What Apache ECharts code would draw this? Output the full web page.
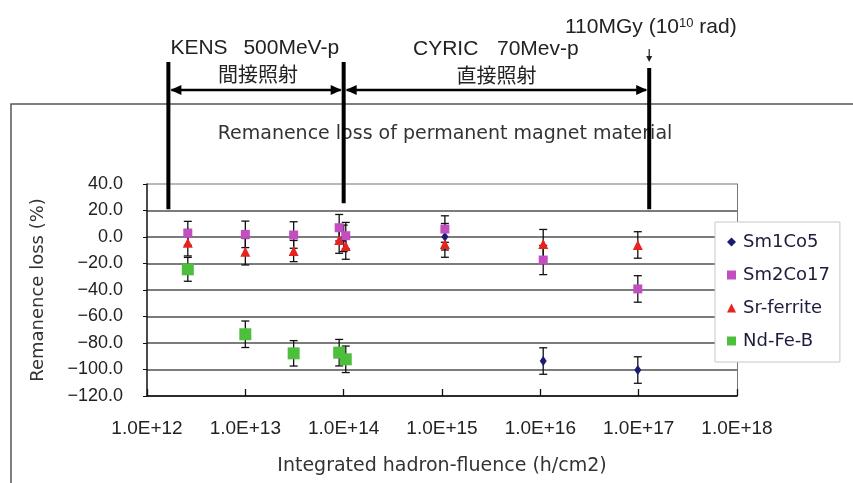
<!DOCTYPE html>
<html><head><meta charset="utf-8">
<script src="https://cdn.jsdelivr.net/npm/echarts@6/dist/echarts.min.js"></script>
<style>html,body{margin:0;padding:0;background:#fff}#c{width:853px;height:483px}</style>
</head><body><div id="c"></div>
<script>
// ---- data ----
const seriesNames = ['Sm1Co5', 'Sm2Co17', 'Sr-ferrite', 'Nd-Fe-B'];
// [fluence (h/cm2), remanence loss (%), error (%)]
const sm1co5 = [[1.0e14, -1, 10], [1.07e15, 0.2, 10], [1.07e16, -93.6, 10], [9.8e16, -100.4, 10]];
const sm2co17 = [[2.6e12, 2.8, 9], [1.0e13, 2, 10], [3.1e13, 1.5, 10], [9.0e13, 7, 10], [1.05e14, 1, 10],
                 [1.07e15, 6, 10], [1.07e16, -17.4, 11], [9.8e16, -39.2, 10]];
const srFerrite = [[2.6e12, -4.3, 10], [1.0e13, -11.1, 10], [3.1e13, -10.6, 8], [9.0e13, -2.3, 10], [1.05e14, -6.8, 10],
                   [1.07e15, -5.3, 10], [1.07e16, -5.3, 11], [9.8e16, -6, 10]];
const ndFeB = [[2.6e12, -24.4, 9], [1.0e13, -73.4, 10], [3.1e13, -87.8, 9.6], [9.0e13, -87.3, 10], [1.05e14, -92.3, 10]];
const yMin = -120, yMax = 40, yStep = 20;
const xMin = 1e12, xMax = 1e18;
// irradiation region boundaries (fluence) and where the bars end (remanence value)
const boundaryFluence = [1.65e12, 1.0e14, 1.28e17];
const boundaryBottom = [21, 25.5, 21];

const colors = ['#1b1b72', '#c24fc0', '#e8231e', '#4dbf3d'];
const symbols = ['diamond', 'rect', 'triangle', 'rect'];
const sizes = [[7, 10], 9, 10, 12];
const datasets = [sm1co5, sm2co17, srFerrite, ndFeB];
const wide = 'DejaVu Sans', lat = 'Liberation Sans', cjk = 'Noto Sans CJK JP';

function errRender(params, api) {
  const x = api.value(0), y = api.value(1), e = api.value(2);
  const p1 = api.coord([x, y + e]), p2 = api.coord([x, y - e]);
  const w = 4;
  const st = { stroke: '#111', lineWidth: 1.3 };
  return { type: 'group', children: [
    { type: 'line', shape: { x1: p1[0], y1: p1[1], x2: p2[0], y2: p2[1] }, style: st },
    { type: 'line', shape: { x1: p1[0] - w, y1: p1[1], x2: p1[0] + w, y2: p1[1] }, style: st },
    { type: 'line', shape: { x1: p2[0] - w, y1: p2[1], x2: p2[0] + w, y2: p2[1] }, style: st }
  ] };
}

const series = [];
datasets.forEach((d) => {
  series.push({ type: 'custom', renderItem: errRender, data: d, encode: { x: 0, y: 1 }, z: 2, silent: true });
});
datasets.forEach((d, i) => {
  series.push({ type: 'scatter', name: seriesNames[i], data: d.map(p => [p[0], p[1]]),
    symbol: symbols[i], symbolSize: sizes[i], itemStyle: { color: colors[i], opacity: 1 }, z: 3 });
});

const gridColors = [];
for (let v = yMin; v <= yMax; v += yStep) gridColors.push(v === yMax ? '#a0a0a0' : '#505050');

const chart = echarts.init(document.getElementById('c'));
chart.setOption({
  animation: false,
  backgroundColor: '#fff',
  title: { text: 'Remanence loss of permanent magnet material', left: 440, top: 120, textAlign: 'center',
    textStyle: { fontFamily: wide, fontSize: 19, fontWeight: 'normal', color: '#333' } },
  grid: { left: 147, right: 116, top: 184, bottom: 87 },
  legend: { orient: 'vertical', left: 715, top: 222, data: seriesNames, itemWidth: 9, itemHeight: 9, itemGap: 15,
    padding: [11, 10, 12, 12], borderColor: '#c8c8c8', borderWidth: 1, backgroundColor: '#fff',
    textStyle: { fontFamily: wide, fontSize: 18, color: '#1c1c3c', padding: [0, 0, 0, 2] } },
  xAxis: { type: 'log', logBase: 10, min: xMin, max: xMax,
    name: 'Integrated hadron-fluence (h/cm2)', nameLocation: 'middle', nameGap: 61,
    nameTextStyle: { fontFamily: wide, fontSize: 19, color: '#333' },
    axisLine: { onZero: false, lineStyle: { color: '#111', width: 1.5 } },
    axisTick: { inside: true, length: 7, lineStyle: { color: '#111', width: 1.3 } },
    minorTick: { show: false }, splitLine: { show: false },
    axisLabel: { margin: 23, fontFamily: lat, fontSize: 19, color: '#222',
      formatter: v => '1.0E+' + Math.round(Math.log10(v)) } },
  yAxis: [{ type: 'value', min: yMin, max: yMax, interval: yStep,
    name: 'Remanence loss (%)', nameLocation: 'middle', nameGap: 100,
    nameTextStyle: { fontFamily: wide, fontSize: 18, color: '#333' },
    axisLine: { show: true, onZero: false, lineStyle: { color: '#111', width: 1.5 } },
    axisTick: { show: true, length: 4, lineStyle: { color: '#111' } },
    splitLine: { show: true, lineStyle: { color: gridColors, width: 1.6 } },
    axisLabel: { margin: 24, fontFamily: lat, fontSize: 18, color: '#222', padding: [3, 0, 0, 0],
      formatter: v => v.toFixed(1).replace('-', '\u2212') } },
  { type: 'value', min: yMin, max: yMax, interval: yStep, position: 'right',
    axisLine: { show: true, onZero: false, lineStyle: { color: '#777', width: 1 } },
    axisTick: { show: false }, axisLabel: { show: false }, splitLine: { show: false } }],
  series: series
});

// ---- annotations ----
const bx = boundaryFluence.map(f => chart.convertToPixel({ xAxisIndex: 0 }, f));
const by = boundaryBottom.map(v => chart.convertToPixel({ yAxisIndex: 0 }, v));
const barTops = [62, 62, 68];
const arrowY = 90;
const g = [];
g.push({ type: 'rect', shape: { x: 11, y: 104, width: 900, height: 420 }, style: { fill: 'none', stroke: '#555', lineWidth: 1.5 }, z: 1, silent: true });
bx.forEach((x, i) => g.push({ type: 'line', shape: { x1: x, y1: barTops[i], x2: x, y2: by[i] }, style: { stroke: '#000', lineWidth: 4 }, z: 10 }));
function dblArrow(xa, xb) {
  const h = 5, L = 11;
  g.push({ type: 'line', shape: { x1: xa + 3, y1: arrowY, x2: xb - 3, y2: arrowY }, style: { stroke: '#000', lineWidth: 2.5 }, z: 10 });
  g.push({ type: 'polygon', shape: { points: [[xa + 2, arrowY], [xa + 2 + L, arrowY - h], [xa + 2 + L, arrowY + h]] }, style: { fill: '#000' }, z: 10 });
  g.push({ type: 'polygon', shape: { points: [[xb - 2, arrowY], [xb - 2 - L, arrowY - h], [xb - 2 - L, arrowY + h]] }, style: { fill: '#000' }, z: 10 });
}
dblArrow(bx[0], bx[1]);
dblArrow(bx[1], bx[2]);
function txt(text, x, y, font, size, align) {
  g.push({ type: 'text', x: x, y: y, z: 10, style: { text: text, fontFamily: font, fontSize: size, fill: '#222', align: align || 'left', verticalAlign: 'middle' } });
}
txt('KENS', bx[0] + 2, 48, lat, 21);
txt('500MeV-p', bx[0] + 75, 48, lat, 21);
txt('CYRIC', 413, 49, lat, 21);
txt('70Mev-p', 497, 49, lat, 21);
txt('間接照射', (bx[0] + bx[1]) / 2 + 2, 74, cjk, 20, 'center');
txt('直接照射', (bx[1] + bx[2]) / 2, 75, cjk, 20, 'center');
g.push({ type: 'text', x: 565, y: 27, z: 10, style: { text: '110MGy (10{s|10} rad)', fontFamily: lat, fontSize: 21, fill: '#222', verticalAlign: 'middle',
  rich: { s: { fontSize: 13, fontFamily: lat, fill: '#222', verticalAlign: 'top', lineHeight: 13, padding: [0, 0, 8, 0] } } } });
// small down arrow under the dose label
g.push({ type: 'line', shape: { x1: bx[2], y1: 49, x2: bx[2], y2: 60 }, style: { stroke: '#222', lineWidth: 1.2 }, z: 10 });
g.push({ type: 'polygon', shape: { points: [[bx[2] - 3, 56], [bx[2] + 3, 56], [bx[2], 62]] }, style: { fill: '#222' }, z: 10 });
chart.setOption({ graphic: g });
</script></body></html>
